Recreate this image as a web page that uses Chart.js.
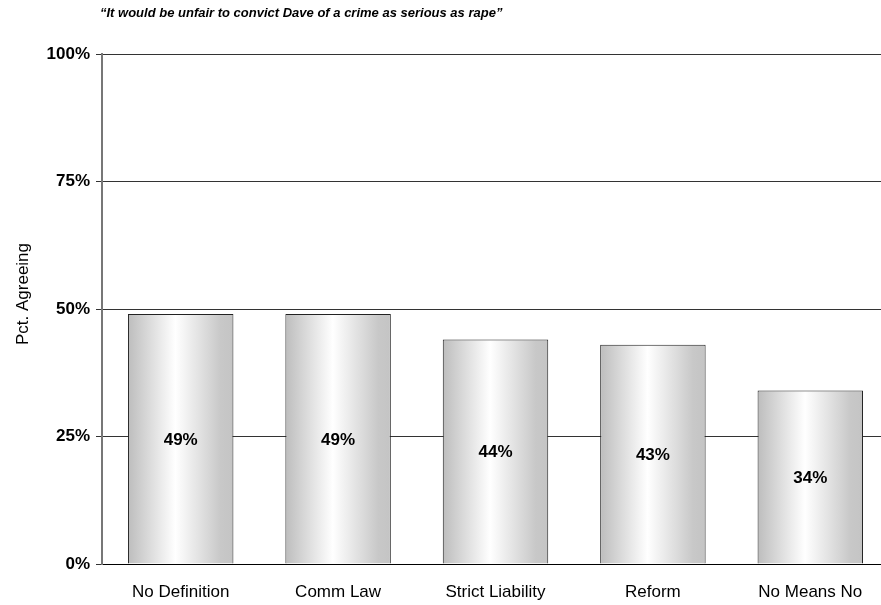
<!DOCTYPE html>
<html>
<head>
<meta charset="utf-8">
<script src="https://cdn.jsdelivr.net/npm/chart.js@4/dist/chart.umd.min.js"></script>
<style>
  html, body { margin: 0; padding: 0; background: #fff; overflow: hidden; }
  #wrap { width: 881px; height: 605px; overflow: hidden; position: relative; }
  #box { width: 889px; height: 605px; position: absolute; left: 0; top: 0; }
</style>
</head>
<body>
<div id="wrap"><div id="box"><canvas id="chart"></canvas></div></div>
<script>
const categories = ['No Definition', 'Comm Law', 'Strict Liability', 'Reform', 'No Means No'];
const pctAgreeing = [49, 49, 44, 43, 34];
const yTicks = [0, 25, 50, 75, 100];
const headline = '\u201CIt would be unfair to convict Dave of a crime as serious as rape\u201D';
const yAxisTitle = 'Pct. Agreeing';

const FONT = "'Liberation Sans', Arial, Helvetica, sans-serif";

// Shade each bar with its own horizontal grey-white-grey cylinder gradient
const barShading = {
  id: 'barShading',
  beforeDatasetsDraw(chart) {
    const ctx = chart.ctx;
    chart.getDatasetMeta(0).data.forEach(bar => {
      const left = bar.x - bar.width / 2;
      const right = bar.x + bar.width / 2;
      const g = ctx.createLinearGradient(left, 0, right, 0);
      g.addColorStop(0, '#bdbdbd');
      g.addColorStop(0.45, '#ffffff');
      g.addColorStop(0.88, '#c8c8c8');
      g.addColorStop(1, '#c4c4c4');
      bar.options = Object.assign({}, bar.options, { backgroundColor: g });
    });
  }
};

// Percentage labels centred in each bar, the quoted headline and the y-axis title
const annotations = {
  id: 'annotations',
  afterDatasetsDraw(chart) {
    const ctx = chart.ctx;
    const y = chart.scales.y;
    ctx.save();
    ctx.fillStyle = '#000';
    ctx.font = 'bold 17px ' + FONT;
    ctx.textAlign = 'center';
    ctx.textBaseline = 'middle';
    chart.getDatasetMeta(0).data.forEach((bar, i) => {
      const v = pctAgreeing[i];
      ctx.fillText(v + '%', bar.x, y.getPixelForValue(v / 2) + 1);
    });
    ctx.font = 'italic bold 13px ' + FONT;
    ctx.textAlign = 'left';
    ctx.fillText(headline, 100, 13);

    ctx.translate(23, 294);
    ctx.rotate(-Math.PI / 2);
    ctx.font = '17px ' + FONT;
    ctx.textAlign = 'center';
    ctx.textBaseline = 'middle';
    ctx.fillText(yAxisTitle, 0, 0);
    ctx.restore();
  }
};

new Chart(document.getElementById('chart'), {
  type: 'bar',
  data: {
    labels: categories,
    datasets: [{
      data: pctAgreeing,
      backgroundColor: '#dddddd',
      borderColor: '#222',
      borderWidth: 1,
      categoryPercentage: 1,
      barPercentage: 0.67
    }]
  },
  options: {
    responsive: true,
    maintainAspectRatio: false,
    animation: false,
    layout: { padding: { top: 54, left: 0, right: 0, bottom: 0 } },
    plugins: {
      legend: { display: false },
      tooltip: { enabled: false }
    },
    scales: {
      x: {
        grid: { display: false },
        border: { display: true, color: '#000', width: 1 },
        ticks: { color: '#000', font: { family: FONT, size: 17 }, padding: 10 },
        afterFit(scale) { scale.height = 41; }
      },
      y: {
        min: 0,
        max: 100,
        afterBuildTicks(scale) { scale.ticks = yTicks.map(v => ({ value: v })); },
        afterFit(scale) { scale.width = 102; },
        grid: { color: '#333', lineWidth: 1, tickLength: 6, tickColor: '#333' },
        border: { display: true, color: '#777', width: 2 },
        ticks: {
          color: '#000',
          font: { family: FONT, size: 17, weight: 'bold' },
          padding: 6,
          callback: v => v + '%'
        }
      }
    }
  },
  plugins: [barShading, annotations]
});
</script>
</body>
</html>
